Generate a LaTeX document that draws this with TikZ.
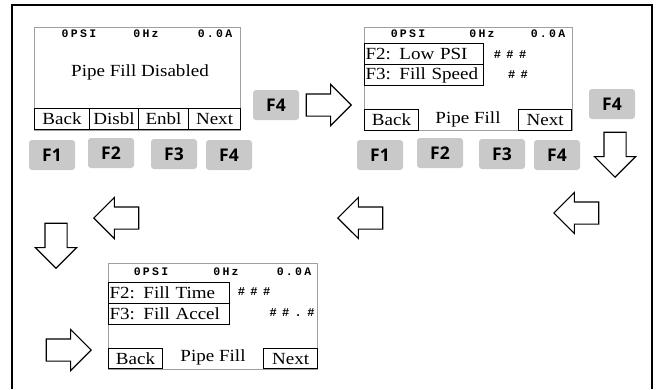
\documentclass[tikz,border=0pt]{standalone}
\usepackage{fontspec}
\usetikzlibrary{shapes.arrows,positioning}
\setmainfont{Liberation Serif}
\newfontfamily\lcdfont[FakeStretch=1.12]{Liberation Serif}
\newfontfamily\hdrfont[LetterSpace=20]{Liberation Mono}
\newfontfamily\hshfont[LetterSpace=45]{Liberation Mono}
\newfontfamily\keyfont{Open Sans}
\definecolor{keyg}{HTML}{C9C9C9}
\definecolor{lcdl}{HTML}{A0A0A0}
\tikzset{
  lcd/.style={draw=lcdl,line width=0.8pt},
  hdr/.style={inner sep=0pt,font=\hdrfont\bfseries\fontsize{11.5}{11.5}\selectfont},
  hsh/.style={inner sep=0pt,font=\hshfont\bfseries\fontsize{12}{12}\selectfont},
  msg/.style={inner sep=0pt,font=\lcdfont\fontsize{17}{17}\selectfont},
  softkey/.style={draw=black,line width=1.1pt,inner sep=0pt,anchor=north west,
    minimum height=21pt,font=\lcdfont\fontsize{17}{17}\selectfont},
  fieldbox/.style={softkey,text width=#1,inner xsep=1pt,align=left},
  fkey/.style={fill=keyg,rounded corners=3pt,minimum width=46pt,minimum height=30pt,
    inner sep=0pt,font=\keyfont\bfseries\fontsize{17.5}{17.5}\selectfont},
  blk/.style={single arrow,draw=black,line width=1.1pt,fill=white,
    inner xsep=0pt,inner ysep=10.5pt,minimum height=45pt,single arrow head extend=9.5pt},
}

\begin{document}
\begin{tikzpicture}[x=1pt,y=-1pt]
\useasboundingbox (0,0) rectangle (660,389);
\draw[line width=1.6pt] (12,389) -- (12,5) -- (652,5) -- (652,389);

% screen 1: pipe fill disabled
\draw[lcd] (34,27) rectangle (240,130);
\node[hdr] (s1psi) at (79,34) {0PSI};
\node[hdr] (s1hz) at (146,34) {0Hz};
\node[hdr] (s1amp) at (215,34) {0.0A};
\node[msg] (s1msg) at (140,72) {Pipe Fill Disabled};
\node[softkey,minimum width=55pt] (s1back) at (34,108) {Back};
\node[softkey,minimum width=49pt] (s1disbl) at (89,108) {Disbl};
\node[softkey,minimum width=50pt] (s1enbl) at (138,108) {Enbl};
\node[softkey,minimum width=52pt] (s1next) at (188,108) {Next};
\node[fkey] (s1f1) at (52,155) {F1};
\node[fkey] (s1f2) at (111,153) {F2};
\node[fkey] (s1f3) at (174,154) {F3};
\node[fkey] (s1f4) at (229,155) {F4};
\node[fkey] (go1) at (276,105) {F4};
\node[blk,anchor=tip] (ar1) at (352,105) {};

% screen 2: low psi / fill speed
\draw[lcd] (364,27) rectangle (572,130);
\node[hdr] (s2psi) at (408,34) {0PSI};
\node[hdr] (s2hz) at (482,34) {0Hz};
\node[hdr] (s2amp) at (548,34) {0.0A};
\node[fieldbox=117pt] (s2low) at (364,43) {F2: Low PSI};
\node[fieldbox=117pt] (s2spd) at (364,64) {F3: Fill Speed};
\node[hsh] (s2h1) at (510,55) {\#\#\#};
\node[hsh] (s2h2) at (518,75) {\#\#};
\node[softkey,minimum width=54pt] (s2back) at (364,109) {Back};
\node[msg] (s2ttl) at (468,119) {Pipe Fill};
\node[softkey,minimum width=53pt] (s2next) at (518,109) {Next};
\node[fkey] (s2f1) at (380,155) {F1};
\node[fkey] (s2f2) at (440,153) {F2};
\node[fkey] (s2f3) at (502,154) {F3};
\node[fkey] (s2f4) at (557,155) {F4};
\node[fkey] (go2) at (612,104) {F4};
\node[blk,rotate=-90,anchor=tip] (ar2) at (615,178) {};

% way back round
\node[blk,rotate=180,anchor=tip] (ar3) at (553,213) {};
\node[blk,rotate=180,anchor=tip] (ar4) at (337,218) {};
\node[blk,rotate=180,anchor=tip] (ar5) at (93,218) {};
\node[blk,rotate=-90,anchor=tip] (ar6) at (56,269) {};
\node[blk,anchor=tip] (ar7) at (92,350) {};

% screen 3: fill time / fill accel
\draw[lcd] (108,263) rectangle (317,369);
\node[hdr] (s3psi) at (151,272) {0PSI};
\node[hdr] (s3hz) at (226,272) {0Hz};
\node[hdr] (s3amp) at (294,272) {0.0A};
\node[fieldbox=119pt] (s3time) at (108,282) {F2: Fill Time};
\node[fieldbox=119pt] (s3acc) at (108,303) {F3: Fill Accel};
\node[hsh] (s3h1) at (254,292) {\#\#\#};
\node[hsh] (s3h2) at (292,313) {\#\#.\#};
\node[softkey,minimum width=54pt,minimum height=20pt] (s3back) at (108,348) {Back};
\node[msg] (s3ttl) at (213,357) {Pipe Fill};
\node[softkey,minimum width=54pt,minimum height=20pt] (s3next) at (263,348) {Next};
\end{tikzpicture}
\end{document}
